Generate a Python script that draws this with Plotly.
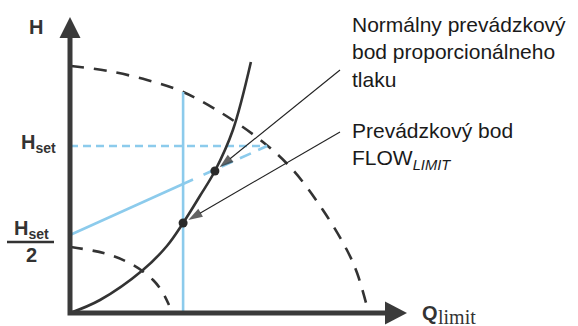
import plotly.graph_objects as go

# ---------------- data (schematic values) ----------------
# outer (max speed) pump curve
outer_q = [0.003, 0.127, 0.257, 0.377, 0.5, 0.643, 0.743, 0.843, 0.923, 0.957, 0.993]
outer_h = [0.988, 0.968, 0.932, 0.884, 0.804, 0.684, 0.572, 0.412, 0.252, 0.16, 0.012]
# inner (min speed) pump curve
inner_q = [0.003, 0.123, 0.21, 0.277, 0.31, 0.33]
inner_h = [0.264, 0.236, 0.192, 0.132, 0.08, 0.032]
# system curve
sys_q = [0.0, 0.1, 0.243, 0.323, 0.377, 0.433, 0.483, 0.543, 0.603]
sys_h = [0.0, 0.052, 0.172, 0.268, 0.36, 0.468, 0.568, 0.732, 1.004]
# FLOW limit vertical line
flow_q = [0.377, 0.377]
flow_h = [0.0, 0.884]
# H set line
hset_q = [0.0, 0.657]
hset_h = [0.668, 0.668]
# proportional pressure line (solid part, dashed part)
prop_solid_q = [0.0, 0.41]
prop_solid_h = [0.312, 0.534]
prop_dash_q = [0.445, 0.657]
prop_dash_h = [0.553, 0.668]
# operating points
op_q = [0.377, 0.483]
op_h = [0.36, 0.568]
# leader line start points (near labels)
lead_q = [0.9, 0.9]
lead_h = [0.724, 0.972]

# ---------------- layout constants ----------------
W, HT = 578, 326
X0, Y0 = 70, 313      # pixel of origin
SX, SY = 300, 250     # pixels per data unit
XR = [-X0 / SX, (W - X0) / SX]
YR = [(Y0 - HT) / SY, Y0 / SY]

DARK = "#333333"
BLUE = "#8ccbec"
FONT = "Liberation Sans, Arial, sans-serif"


def to_px(q, h):
    return X0 + q * SX, Y0 - h * SY


def to_data(x, y):
    return (x - X0) / SX, (Y0 - y) / SY


def px(x):
    return x / W


def py(y):
    return 1 - y / HT


fig = go.Figure()

# curves
fig.add_trace(go.Scatter(x=outer_q, y=outer_h, mode="lines", line=dict(color=DARK, width=2.6, dash="13px,10px", shape="spline"), hoverinfo="skip"))
fig.add_trace(go.Scatter(x=inner_q, y=inner_h, mode="lines", line=dict(color=DARK, width=2.6, dash="12px,10px", shape="spline"), hoverinfo="skip"))
fig.add_trace(go.Scatter(x=flow_q, y=flow_h, mode="lines", line=dict(color=BLUE, width=2.6), hoverinfo="skip"))
fig.add_trace(go.Scatter(x=hset_q, y=hset_h, mode="lines", line=dict(color=BLUE, width=2.6, dash="8px,5px"), hoverinfo="skip"))
fig.add_trace(go.Scatter(x=prop_solid_q, y=prop_solid_h, mode="lines", line=dict(color=BLUE, width=2.6), hoverinfo="skip"))
fig.add_trace(go.Scatter(x=prop_dash_q, y=prop_dash_h, mode="lines", line=dict(color=BLUE, width=2.6, dash="12px,8px"), hoverinfo="skip"))
fig.add_trace(go.Scatter(x=sys_q, y=sys_h, mode="lines", line=dict(color=DARK, width=2.6, shape="spline"), hoverinfo="skip"))

# axes with arrows
AX_W = 5
H_TIP, H_BASE = to_data(0, 17)[1], to_data(0, 38)[1]
Q_TIP, Q_BASE = to_data(407, 0)[0], to_data(385, 0)[0]
fig.add_trace(go.Scatter(x=[0, 0, Q_BASE], y=[H_BASE, 0, 0], mode="lines",
                         line=dict(color="#3a3a3a", width=AX_W), hoverinfo="skip"))
hw_q = 10.5 / SX
hw_h = 11.5 / SY
shapes = [
    dict(type="path", xref="x", yref="y", line=dict(width=0), fillcolor="#3a3a3a",
         path=f"M {-hw_q},{H_BASE} L {hw_q},{H_BASE} L 0,{H_TIP} Z"),
    dict(type="path", xref="x", yref="y", line=dict(width=0), fillcolor="#3a3a3a",
         path=f"M {Q_BASE},{-hw_h} L {Q_BASE},{hw_h} L {Q_TIP},0 Z"),
    # fraction bar for Hset/2
    dict(type="line", xref="paper", yref="paper", x0=px(7), x1=px(54), y0=py(242), y1=py(242),
         line=dict(color=DARK, width=2.5)),
]

# leader arrows
BACK = 6
for i in range(2):
    sx, sy = to_px(lead_q[i], lead_h[i])
    ex, ey = to_px(op_q[i], op_h[i])
    dx, dy = ex - sx, ey - sy
    L = (dx * dx + dy * dy) ** 0.5
    tx, ty = ex - dx / L * BACK, ey - dy / L * BACK
    tq, th = to_data(tx, ty)
    fig.add_trace(go.Scatter(x=[lead_q[i], tq], y=[lead_h[i], th], mode="lines+markers",
                             line=dict(color="#222222", width=1.1),
                             marker=dict(symbol=["circle", "arrow"], size=[0, 15], color="#222222",
                                         angleref="previous", line=dict(width=0)),
                             hoverinfo="skip"))

# operating points
fig.add_trace(go.Scatter(x=op_q, y=op_h, mode="markers",
                         marker=dict(color="#2a2a2a", size=9, line=dict(width=0)), hoverinfo="skip"))

ann = []
lab = dict(color=DARK, family=FONT, size=20)
ann.append(dict(text="<b>H</b>", x=px(35.5), y=py(27), xref="paper", yref="paper",
                xanchor="center", yanchor="middle", showarrow=False, font=lab))
ann.append(dict(text="<b>H<sub>set</sub></b>", x=px(58), y=py(143), xref="paper", yref="paper",
                xanchor="right", yanchor="middle", showarrow=False, font=lab))
ann.append(dict(text="<b>H<sub>set</sub></b>", x=px(51), y=py(229), xref="paper", yref="paper",
                xanchor="right", yanchor="middle", showarrow=False, font=lab))
ann.append(dict(text="<b>2</b>", x=px(31), y=py(255), xref="paper", yref="paper",
                xanchor="center", yanchor="middle", showarrow=False, font=lab))
ann.append(dict(text="<b>Q</b>", x=px(420), y=py(313), xref="paper", yref="paper",
                xanchor="left", yanchor="middle", showarrow=False, font=lab))
ann.append(dict(text="limit", x=px(436), y=py(317), xref="paper", yref="paper",
                xanchor="left", yanchor="middle", showarrow=False,
                font=dict(color=DARK, family="Liberation Serif, Times New Roman, serif", size=20)))
txt = dict(color="#1a1a1a", family=FONT, size=21)
ann.append(dict(text="Normálny prevádzkový<br>bod proporcionálneho<br>tlaku", x=px(350), y=py(52),
                xref="paper", yref="paper", xanchor="left", yanchor="middle", align="left",
                showarrow=False, font=txt))
ann.append(dict(text="Prevádzkový bod<br>FLOW<sub><i>LIMIT</i></sub>", x=px(350), y=py(146),
                xref="paper", yref="paper", xanchor="left", yanchor="middle", align="left",
                showarrow=False, font=txt))

fig.update_layout(
    width=W, height=HT,
    margin=dict(l=0, r=0, t=0, b=0),
    paper_bgcolor="white", plot_bgcolor="white",
    showlegend=False,
    xaxis=dict(range=XR, visible=False, fixedrange=True),
    yaxis=dict(range=YR, visible=False, fixedrange=True),
    shapes=shapes,
    annotations=ann,
)

fig.write_html("out.html", config={"displayModeBar": False},
               post_script="document.body.style.margin='0px';document.body.style.overflow='hidden';")
